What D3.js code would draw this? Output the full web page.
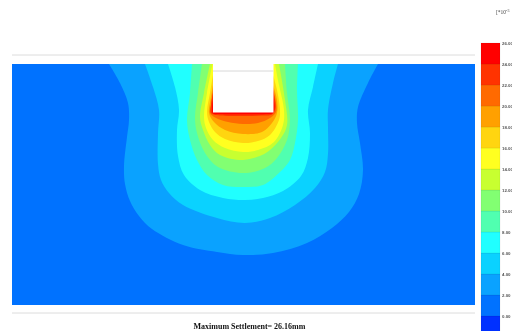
<!DOCTYPE html>
<html>
<head>
<meta charset="utf-8">
<script src="https://cdn.jsdelivr.net/npm/d3@7"></script>
<style>
  html, body { margin: 0; background: #fff; overflow: hidden; }
  svg { display: block; filter: blur(0.45px); }
</style>
</head>
<body>
<svg id="chart"></svg>
<script>
const width = 512; // pixels
const height = 331; // pixels

// legend classes, settlement in 10^-3 m
const legendTicks = [0, 2, 4, 6, 8, 10, 12, 14, 16, 18, 20, 22, 24, 26];
const legendColors = ["#0030ff", "#0072ff", "#0aa2ff", "#0ad2ff", "#20ffff", "#50ffb0", "#82ff72",
  "#c8ff30", "#ffff20", "#ffd510", "#ffa000", "#ff6a00", "#ff3300", "#ff0000"];

// section size and excavation, in model grid units
const sectionWidth = 463;
const sectionDepth = 241;
const pitLeft = 201;
const pitRight = 261.5;
const pitDepth = 48.5;
const pitLineDepth = 7;
const upperLineDepth = -9;
const lowerLineDepth = 249;

// settlement contours, [offset, depth]
const contour2 = [[97, 0], [108, 19], [116, 39], [117, 56], [115, 73], [112, 102], [113, 120], [118, 137], [127, 152], [140, 165], [171, 181], [205, 188], [231, 191], [261, 189], [295, 179], [320, 164], [337, 148], [347, 130], [351, 106], [348, 79], [345, 59], [346, 43], [356, 19], [366, 0]];
const contour4 = [[133, 0], [141, 23], [147, 46], [146, 69], [146, 100], [149, 116], [157, 129], [171, 141], [205, 154], [233, 159], [258, 154], [283, 141], [303, 124], [313, 108], [316, 90], [316, 63], [316, 46], [321, 19], [326, 0]];
const contour6 = [[156, 0], [163, 23], [167, 46], [165, 66], [166, 92], [172, 111], [188, 126], [211, 134], [233, 136], [251, 134], [271, 127], [289, 112], [296, 94], [298, 69], [296, 46], [301, 23], [306, 0]];
const contour8 = [[180, 0], [178, 29], [175, 56], [178, 76], [185, 96], [195, 111], [211, 121], [231, 123], [251, 121], [268, 108], [278, 96], [283, 79], [286, 56], [285, 26], [286, 0]];
const contour10 = [[190, 0], [186, 29], [183, 53], [185, 69], [193, 89], [206, 103], [231, 109], [253, 104], [265, 94], [275, 76], [278, 56], [275, 29], [273, 0]];
const contour12 = [[198, 0], [192, 29], [188, 53], [191, 66], [198, 81], [208, 91], [231, 96], [250, 91], [258, 86], [269, 74], [275, 61], [273, 36], [267, 0]];
const contour14 = [[200.5, 0], [195, 29], [192, 53], [194, 64], [201, 76], [213, 84], [231, 88], [246, 86], [262, 78], [271, 61], [272, 46], [267, 21], [263, 0]];
const contour16 = [[201, 11], [198, 29], [195, 48], [197, 58], [203, 68], [213, 75], [231, 79], [246, 77], [258, 71], [267, 56], [268, 46], [265, 26], [261, 11]];
const contour18 = [[201, 21], [198.5, 36], [197, 49], [202, 58], [213, 66], [231, 70], [250, 68], [260, 59], [265, 49], [265, 36], [261, 21]];
const contour20 = [[201, 26], [199, 41], [198, 49], [204, 54], [216, 58], [231, 60], [246, 59], [258, 54], [264, 48], [263.5, 36], [261, 24]];
const contour22 = [[201, 29], [199, 41], [199, 49], [204, 51], [231, 52], [250, 51.5], [260, 50.5], [263.5, 44], [263, 36], [261, 26]];
const contour24 = [[201, 36], [200, 44], [201, 49.5], [208, 50], [254, 50], [261, 49], [262.5, 42], [261, 33]];

const contours = [contour2, contour4, contour6, contour8, contour10, contour12, contour14,
  contour16, contour18, contour20, contour22, contour24];

const caption = "Maximum Settlement= 26.16mm";

const svg = d3.select("#chart").attr("width", width).attr("height", height);

const x = d3.scaleLinear([0, sectionWidth], [12, 475]);
const y = d3.scaleLinear([0, sectionDepth], [64, 305]);
const legendY = d3.scaleLinear([0, 26], [316, 43]);

/**
 * Section with the nested contour bands, each painted over the previous one.
 */
svg.append("clipPath").attr("id", "section")
  .append("rect")
  .attr("x", x(0)).attr("y", y(0))
  .attr("width", x(sectionWidth) - x(0))
  .attr("height", y(sectionDepth) - y(0));

const plot = svg.append("g").attr("clip-path", "url(#section)");

plot.append("rect")
  .attr("x", x(0)).attr("y", y(0))
  .attr("width", x(sectionWidth) - x(0))
  .attr("height", y(sectionDepth) - y(0))
  .attr("fill", legendColors[1]);

const contourLine = d3.line()
  .x(d => x(d[0]))
  .y(d => y(d[1]))
  .curve(d3.curveCatmullRom.alpha(0.5));

plot.selectAll("path.band")
  .data(contours)
  .join("path")
  .attr("class", "band")
  .attr("fill", (d, i) => legendColors[i + 2])
  .attr("d", d => contourLine(d) + "Z");

// excavation
plot.append("rect")
  .attr("x", x(pitLeft)).attr("y", y(0))
  .attr("width", x(pitRight) - x(pitLeft))
  .attr("height", y(pitDepth) - y(0))
  .attr("fill", "#fff");

plot.append("line")
  .attr("x1", x(pitLeft)).attr("x2", x(pitRight))
  .attr("y1", y(pitLineDepth)).attr("y2", y(pitLineDepth))
  .attr("stroke", "#d8d8d8");

// faint lines above and below the section
svg.selectAll("line.ghost")
  .data([upperLineDepth, lowerLineDepth])
  .join("line")
  .attr("class", "ghost")
  .attr("x1", x(0)).attr("x2", x(sectionWidth))
  .attr("y1", d => y(d)).attr("y2", d => y(d))
  .attr("stroke", "#dcdcdc");

/**
 * Legend, the lowest class runs off the bottom of the page.
 */
const legendBands = legendColors.map((color, i) => ({
  color,
  low: i === 0 ? -2 : legendTicks[i - 1],
  high: i === 0 ? 0 : legendTicks[i]
}));

svg.append("g")
  .selectAll("rect")
  .data(legendBands)
  .join("rect")
  .attr("x", 481)
  .attr("width", 19)
  .attr("y", d => legendY(d.high))
  .attr("height", d => legendY(d.low) - legendY(d.high))
  .attr("fill", d => d.color)
  .attr("stroke", "#000")
  .attr("stroke-opacity", 0.12)
  .attr("stroke-width", 0.5);

svg.append("g")
  .attr("transform", "translate(500,0)")
  .call(d3.axisRight(legendY).tickValues(legendTicks).tickFormat(d3.format(".2f")).tickSize(0).tickPadding(2))
  .call(g => g.select(".domain").remove())
  .call(g => g.selectAll("text")
    .attr("font-family", "'Liberation Sans'")
    .attr("font-size", 4.4)
    .attr("font-weight", "bold")
    .attr("fill", "#555"));

const unit = svg.append("text")
  .attr("x", 496).attr("y", 14)
  .attr("font-family", "'Liberation Serif'")
  .attr("font-size", 5.5)
  .attr("fill", "#444")
  .text("[*10");
unit.append("tspan").attr("dy", -2).attr("font-size", 4).text("-3");

svg.append("text")
  .attr("x", 249.5).attr("y", 329)
  .attr("text-anchor", "middle")
  .attr("font-family", "'Liberation Serif'")
  .attr("font-size", 8)
  .attr("font-weight", "bold")
  .attr("fill", "#111")
  .text(caption);
</script>
</body>
</html>
